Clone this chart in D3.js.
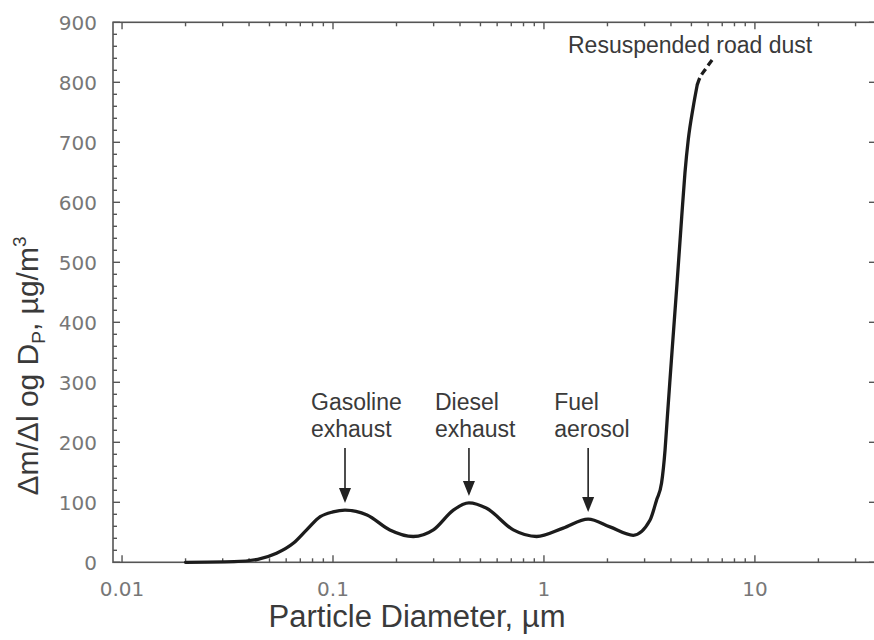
<!DOCTYPE html>
<html>
<head>
<meta charset="utf-8">
<script src="https://cdn.jsdelivr.net/npm/d3@7"></script>
<style>
  body { margin: 0; background: #fff; }
  svg { display: block; }
</style>
</head>
<body>
<svg id="chart" width="874" height="640"></svg>
<script>
// Particle diameter (µm) and mass distribution Δm/Δlog Dp (µg/m³), measured part of the curve
const diameters = [0.020, 0.034, 0.044, 0.054, 0.065, 0.075, 0.087, 0.100, 0.114, 0.145,
                   0.186, 0.240, 0.299, 0.372, 0.441, 0.535, 0.716, 0.923, 1.234, 1.62,
                   2.055, 2.65, 3.18, 3.42, 3.61, 3.75, 3.845, 3.948, 4.052, 4.274,
                   4.499, 4.66, 4.83, 5.10, 5.33];
const massConc  = [0, 1, 5, 15, 32, 54, 76, 84, 87, 79,
                   54, 43, 54, 87, 99, 90, 54, 43, 57, 72,
                   59, 45, 70, 104, 132, 187, 242, 299, 354, 465,
                   576, 649, 704, 759, 796];

// Extrapolated tail of the coarse mode (drawn dashed)
const tailDiameters = [5.33, 5.43, 5.86, 6.35];
const tailConc      = [796, 804, 823, 840];

// Axis ticks
const xMajorTicks = [0.01, 0.1, 1, 10];
const xTickLabels = ["0.01", "0.1", "1", "10"];
const yMajorTicks = [0, 100, 200, 300, 400, 500, 600, 700, 800, 900];

// Source annotations: label lines and the mode diameter each arrow points at
const modeLabels = [["Gasoline", "exhaust"], ["Diesel", "exhaust"], ["Fuel", "aerosol"]];
const modeDiameters = [0.114, 0.441, 1.62];
const modePeaks = [87, 99, 72];
const coarseLabel = "Resuspended road dust";

const svg = d3.select("#chart");
const plotLeft = 113, plotRight = 876, plotTop = 22.3, plotBottom = 562.3;

const x = d3.scaleLog().domain([0.00906, 37.5]).range([plotLeft, plotRight]);
const y = d3.scaleLinear().domain([0, 900]).range([plotBottom, plotTop]);

// minor ticks on the log axis: 2..9 within each decade
const xMinorTicks = [];
[0.01, 0.1, 1, 10].forEach(dec => {
  for (let k = 2; k <= 9; k++) {
    const v = +(dec * k).toPrecision(3);
    if (v >= x.domain()[0] && v <= x.domain()[1]) xMinorTicks.push(v);
  }
});
const yMinorTicks = d3.range(0, 901, 20).filter(v => v % 100 !== 0);

const axisColor = "#555";
const labelColor = "#777";
const tickFont = "DejaVu Sans, sans-serif";
const titleFont = "Liberation Sans, Arial, sans-serif";

// frame
svg.append("rect")
  .attr("x", plotLeft).attr("y", plotTop)
  .attr("width", plotRight - plotLeft).attr("height", plotBottom - plotTop)
  .attr("fill", "none").attr("stroke", axisColor).attr("stroke-width", 1.6);

// inward tick marks on all four sides
const ticks = svg.append("g").attr("stroke", axisColor).attr("stroke-width", 1.4);
function xTicks(values, len) {
  ticks.append("g").selectAll("line").data(values).join("line")
    .attr("x1", d => x(d)).attr("x2", d => x(d))
    .attr("y1", plotBottom).attr("y2", plotBottom - len);
  ticks.append("g").selectAll("line").data(values).join("line")
    .attr("x1", d => x(d)).attr("x2", d => x(d))
    .attr("y1", plotTop).attr("y2", plotTop + len);
}
xTicks(xMajorTicks, 7);
xTicks(xMinorTicks, 4);
ticks.append("g").selectAll("line").data(yMajorTicks).join("line")
  .attr("x1", plotLeft).attr("x2", plotLeft + 7)
  .attr("y1", d => y(d)).attr("y2", d => y(d));
ticks.append("g").selectAll("line").data(yMinorTicks).join("line")
  .attr("x1", plotLeft).attr("x2", plotLeft + 4)
  .attr("y1", d => y(d)).attr("y2", d => y(d));
ticks.append("g").selectAll("line").data(yMajorTicks).join("line")
  .attr("x1", plotRight).attr("x2", plotRight - 7)
  .attr("y1", d => y(d)).attr("y2", d => y(d));

// tick labels
svg.append("g").selectAll("text").data(xMajorTicks).join("text")
  .attr("x", d => x(d)).attr("y", 596)
  .attr("text-anchor", "middle")
  .attr("font-family", tickFont).attr("font-size", 20).attr("fill", labelColor)
  .text((d, i) => xTickLabels[i]);
svg.append("g").selectAll("text").data(yMajorTicks).join("text")
  .attr("x", 97).attr("y", d => y(d)).attr("dy", "0.36em")
  .attr("text-anchor", "end")
  .attr("font-family", tickFont).attr("font-size", 20).attr("fill", labelColor)
  .text(d => d);

// axis titles
svg.append("text")
  .attr("x", 417).attr("y", 627)
  .attr("text-anchor", "middle")
  .attr("font-family", titleFont).attr("font-size", 31)
  .attr("fill", "#3a3a3a")
  .text("Particle Diameter, µm");

const yTitle = svg.append("text")
  .attr("transform", "translate(38,366) rotate(-90)")
  .attr("text-anchor", "middle")
  .attr("font-family", titleFont).attr("font-size", 30)
  .attr("fill", "#3a3a3a");
yTitle.append("tspan").text("Δm/Δl og D");
yTitle.append("tspan").attr("font-size", 19).attr("dy", 7).text("P");
yTitle.append("tspan").attr("dy", -7).text(", µg/m");
yTitle.append("tspan").attr("font-size", 19).attr("dy", -12).text("3");

// distribution curve
const line = d3.line()
  .x(d => x(d[0])).y(d => y(d[1]))
  .curve(d3.curveMonotoneX);

svg.append("path")
  .datum(diameters.map((d, i) => [d, massConc[i]]))
  .attr("d", line)
  .attr("fill", "none").attr("stroke", "#1c1c1c")
  .attr("stroke-width", 3.3).attr("stroke-linejoin", "round").attr("stroke-linecap", "round");

svg.append("path")
  .datum(tailDiameters.map((d, i) => [d, tailConc[i]]))
  .attr("d", line)
  .attr("fill", "none").attr("stroke", "#1c1c1c")
  .attr("stroke-width", 3.3).attr("stroke-dasharray", "7,4");

// mode annotations with arrows
modeLabels.forEach((lines, i) => {
  const ax = x(modeDiameters[i]);
  const tipY = y(modePeaks[i]) - 7;
  const g = svg.append("g");
  const t = g.append("text")
    .attr("font-family", titleFont).attr("font-size", 23).attr("fill", "#3a3a3a");
  lines.forEach((s, j) => {
    t.append("tspan").attr("x", ax - 34).attr("y", 410 + j * 27).text(s);
  });
  g.append("line")
    .attr("x1", ax).attr("x2", ax).attr("y1", 448).attr("y2", tipY - 12)
    .attr("stroke", "#222").attr("stroke-width", 1.6);
  g.append("path")
    .attr("d", `M${ax - 6},${tipY - 15} L${ax + 6},${tipY - 15} L${ax},${tipY} Z`)
    .attr("fill", "#222");
});

svg.append("text")
  .attr("x", 568).attr("y", 53)
  .attr("font-family", titleFont).attr("font-size", 23).attr("fill", "#3a3a3a")
  .text(coarseLabel);
</script>
</body>
</html>
